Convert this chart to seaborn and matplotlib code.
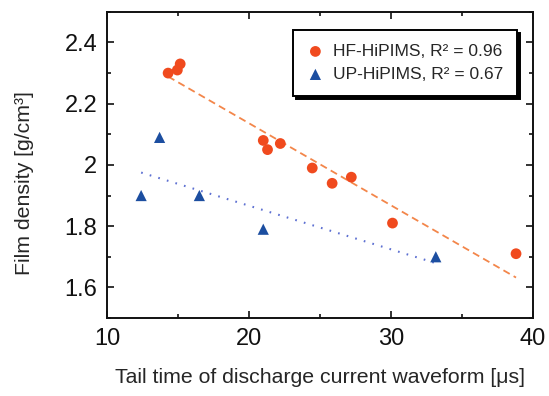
import numpy as np
import pandas as pd
import seaborn as sns
import matplotlib.pyplot as plt
from matplotlib.ticker import MultipleLocator

# HF-HiPIMS data (orange circles)
hf_tail = [14.3, 14.95, 15.15, 21.0, 21.3, 22.2, 24.45, 25.85, 27.2, 30.1, 38.8]
hf_density = [2.30, 2.31, 2.33, 2.08, 2.05, 2.07, 1.99, 1.94, 1.96, 1.81, 1.71]

# UP-HiPIMS data (blue triangles)
up_tail = [12.4, 13.7, 16.5, 21.0, 33.15]
up_density = [1.90, 2.09, 1.90, 1.79, 1.70]

hf_label = "HF-HiPIMS, R² = 0.96"
up_label = "UP-HiPIMS, R² = 0.67"

hf = pd.DataFrame({"tail": hf_tail, "density": hf_density})
up = pd.DataFrame({"tail": up_tail, "density": up_density})

sns.set_style("ticks")
plt.rcParams["font.family"] = ["Liberation Sans", "DejaVu Sans"]

orange = "#f04a1e"
blue = "#1c4ea0"

fig = plt.figure(figsize=(5.49, 3.96), dpi=100)
ax = fig.add_axes([0.195, 0.197, 0.776, 0.773])

# linear fits
sns.regplot(data=hf, x="tail", y="density", scatter=False, ci=None, ax=ax,
            line_kws=dict(color="#f3864a", lw=1.3, ls=(0, (4, 2.5))))
sns.regplot(data=up, x="tail", y="density", scatter=False, ci=None, ax=ax,
            line_kws=dict(color="#5d70d2", lw=1.5, ls=(0, (0.8, 3.5))))

sns.scatterplot(data=hf, x="tail", y="density", ax=ax, color=orange, marker="o",
                s=60, edgecolor="none", label=hf_label, zorder=3)
sns.scatterplot(data=up, x="tail", y="density", ax=ax, color=blue, marker="^",
                s=65, edgecolor="none", label=up_label, zorder=3)

ax.set_xlim(10, 40)
ax.set_ylim(1.5, 2.5)
ax.xaxis.set_major_locator(MultipleLocator(10))
ax.xaxis.set_minor_locator(MultipleLocator(5))
ax.yaxis.set_minor_locator(MultipleLocator(0.1))
ax.set_yticks([1.6, 1.8, 2.0, 2.2, 2.4])
ax.set_yticklabels(["1.6", "1.8", "2", "2.2", "2.4"])

ax.tick_params(which="both", direction="in", top=True, right=True, width=1.2,
               labelsize=17, colors="#111111")
ax.tick_params(which="major", length=5, pad=7)
ax.tick_params(which="minor", length=3)
for sp in ax.spines.values():
    sp.set_linewidth(1.4)
    sp.set_color("#111111")

ax.set_xlabel("Tail time of discharge current waveform [μs]", fontsize=15.3, labelpad=13)
ax.set_ylabel("Film density [g/cm³]", fontsize=15.3)
ax.yaxis.set_label_coords(-0.172, 0.44)

leg = ax.legend(loc="upper right", bbox_to_anchor=(0.962, 0.941), fontsize=12.5,
                frameon=True, fancybox=False, shadow={"color": "black", "alpha": 1},
                handletextpad=0.5, borderpad=0.8, labelspacing=0.45, handlelength=1.0,
                borderaxespad=0)
leg.get_frame().set_edgecolor("black")
leg.get_frame().set_linewidth(1.4)

fig.savefig("out.png", dpi=100)
